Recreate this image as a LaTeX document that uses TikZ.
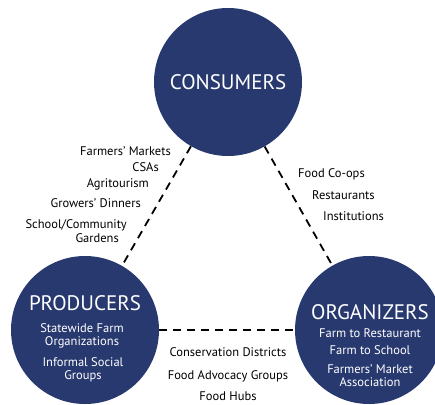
\documentclass[tikz,border=0pt]{standalone}
\usepackage{fontspec}
\setmainfont{PT Sans}
\definecolor{navy}{RGB}{40,57,111}
\begin{document}
\begin{tikzpicture}[x=1pt,y=-1pt,line join=round,
    hub/.style={circle,fill=navy,minimum size=148pt,inner sep=0pt},
    title/.style={text=white,font=\fontsize{21}{24}\selectfont},
    inner/.style={text=white,font=\fontsize{12.5}{13}\selectfont,align=center,inner sep=0pt},
    lbl/.style={font=\fontsize{12.5}{13}\selectfont,align=center,inner sep=0pt,text height=9pt,text depth=2.5pt},
    link/.style={dash pattern=on 8pt off 6pt,line width=1.8pt}]
  \useasboundingbox (0,0) rectangle (435,404);
  \node[hub] (cons) at (228,82) {};
  \node[hub] (prod) at (85,330) {};
  \node[hub] (org) at (369,330) {};
  \draw[link] (cons) -- (prod);
  \draw[link] (cons) -- (org);
  \draw[link] (prod) -- (org);
  % titles
  \node[title] (tcons) at (228,82) {CONSUMERS};
  \node[title] (tprod) at (85,303) {PRODUCERS};
  \node[title] (torg) at (370,312) {ORGANIZERS};
  % inside the circles
  \node[inner] (p1) at (82,335.5) {Statewide Farm\\Organizations};
  \node[inner] (p2) at (83,370) {Informal Social\\Groups};
  \node[inner] (o1) at (370,333) {Farm to Restaurant};
  \node[inner] (o2) at (370,350) {Farm to School};
  \node[inner] (o3) at (370,375.5) {Farmers' Market\\Association};
  % consumers -- producers
  \node[lbl,anchor=east] (l1) at (171,152) {Farmers' Markets};
  \node[lbl,anchor=east] (l2) at (159,168) {CSAs};
  \node[lbl,anchor=east] (l3) at (149,184) {Agritourism};
  \node[lbl,anchor=east] (l4) at (141,204) {Growers' Dinners};
  \node[lbl,anchor=east] (l5) at (127,225) {School/Community};
  \node[lbl,anchor=east] (l6) at (119,239) {Gardens};
  % consumers -- organizers
  \node[lbl,anchor=west] (r1) at (298,174) {Food Co-ops};
  \node[lbl,anchor=west] (r2) at (312,196) {Restaurants};
  \node[lbl,anchor=west] (r3) at (323,217) {Institutions};
  % producers -- organizers
  \node[lbl] (b1) at (228,353) {Conservation Districts};
  \node[lbl] (b2) at (228,376) {Food Advocacy Groups};
  \node[lbl] (b3) at (228,397) {Food Hubs};
\end{tikzpicture}
\end{document}
